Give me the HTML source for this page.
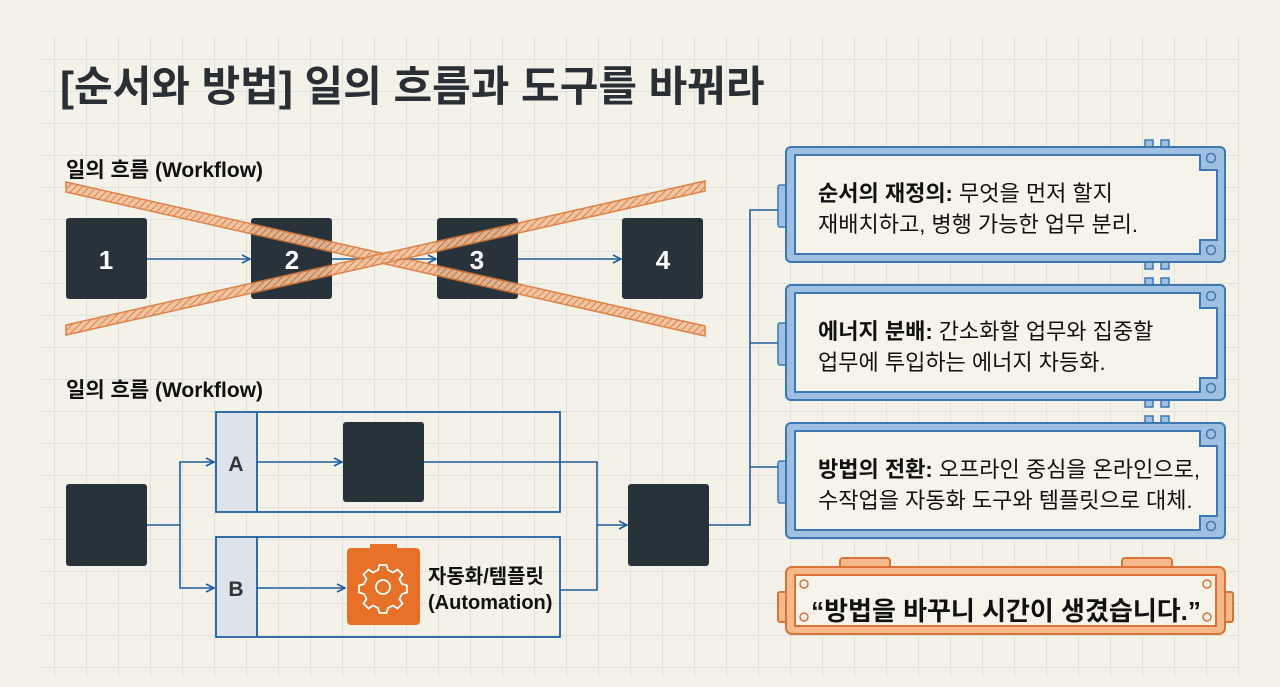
<!DOCTYPE html>
<html><head><meta charset="utf-8"><style>
html,body{margin:0;padding:0;background:#f4f1e8;}
svg{display:block}
text{font-family:"Liberation Sans","Noto Sans CJK KR",sans-serif;}
</style></head><body>
<svg width="1280" height="687" viewBox="0 0 1280 687" xmlns="http://www.w3.org/2000/svg">
<defs>
<pattern id="grid" x="23" y="28" width="32" height="32" patternUnits="userSpaceOnUse">
<path d="M32 0V32M0 32H32" fill="none" stroke="#d3d8dc" stroke-width="1.2"/>
</pattern>
<pattern id="hatch" width="5" height="5" patternUnits="userSpaceOnUse" patternTransform="rotate(45)">
<rect width="5" height="5" fill="#f1c09a"/><line x1="0" y1="0" x2="0" y2="5" stroke="#d9783a" stroke-width="2"/>
</pattern>
<marker id="ar" markerWidth="10" markerHeight="10" refX="9" refY="5" orient="auto" markerUnits="userSpaceOnUse">
<path d="M1 1L9 5L1 9" fill="none" stroke="#1f5f9e" stroke-width="1.6"/>
</marker>
</defs>
<rect width="1280" height="687" fill="#f4f1e8"/>
<rect x="40" y="37" width="1200" height="640" fill="url(#grid)"/>
<text x="60" y="101" font-size="42" font-weight="bold" fill="#2a2f35">[순서와 방법] 일의 흐름과 도구를 바꿔라</text>

<text x="66" y="177" font-size="21" font-weight="bold" fill="#111">일의 흐름 (Workflow)</text>
<g fill="#27323b">
<rect x="66" y="218" width="81" height="81" rx="3"/><rect x="251" y="218" width="81" height="81" rx="3"/>
<rect x="437" y="218" width="81" height="81" rx="3"/><rect x="622" y="218" width="81" height="81" rx="3"/>
</g>
<g stroke="#1f5f9e" stroke-width="1.6" fill="none" marker-end="url(#ar)">
<line x1="147" y1="259" x2="250" y2="259"/><line x1="332" y1="259" x2="436" y2="259"/><line x1="518" y1="259" x2="621" y2="259"/>
</g>
<g font-size="26" font-weight="bold" fill="#fff" text-anchor="middle">
<text x="106" y="269">1</text><text x="292" y="269">2</text><text x="477" y="269">3</text><text x="663" y="269">4</text>
</g>
<g stroke="#d9783a" stroke-width="1.5" fill="url(#hatch)" opacity="0.9">
<polygon points="66,182 705,326 705,336 66,192"/>
<polygon points="66,325 705,181 705,191 66,335"/>
</g>

<text x="66" y="397" font-size="21" font-weight="bold" fill="#111">일의 흐름 (Workflow)</text>
<g stroke="#1f5f9e" stroke-width="1.8" fill="none">
<rect x="216" y="412" width="344" height="100"/>
<rect x="216" y="537" width="344" height="100"/>
</g>
<rect x="217" y="413" width="40" height="98" fill="#dde3ea"/>
<rect x="217" y="538" width="40" height="98" fill="#dde3ea"/>
<g stroke="#1f5f9e" stroke-width="1.8"><line x1="257" y1="412" x2="257" y2="512"/><line x1="257" y1="537" x2="257" y2="637"/></g>
<text x="236" y="471" font-size="21" font-weight="bold" fill="#333" text-anchor="middle">A</text>
<text x="236" y="596" font-size="21" font-weight="bold" fill="#333" text-anchor="middle">B</text>
<g fill="#27323b">
<rect x="66" y="484" width="81" height="82" rx="3"/><rect x="343" y="422" width="81" height="80" rx="3"/><rect x="628" y="484" width="81" height="82" rx="3"/>
</g>
<g stroke="#1f5f9e" stroke-width="1.6" fill="none">
<polyline points="147,525 180,525"/>
<polyline points="180,525 180,462 214,462" marker-end="url(#ar)"/>
<polyline points="180,525 180,588 214,588" marker-end="url(#ar)"/>
<line x1="257" y1="462" x2="342" y2="462" marker-end="url(#ar)"/>
<line x1="257" y1="588" x2="345" y2="588" marker-end="url(#ar)"/>
<polyline points="424,462 597,462 597,590 560,590"/>
<line x1="597" y1="525" x2="627" y2="525" marker-end="url(#ar)"/>
<polyline points="709,525 750,525 750,210 778,210"/>
<line x1="750" y1="343" x2="778" y2="343"/>
<line x1="750" y1="467" x2="778" y2="467"/>
</g>
<rect x="347" y="548" width="73" height="77" rx="4" fill="#e8712a"/>
<rect x="370" y="544" width="27" height="5" fill="#e8712a"/>
<g transform="translate(383,587)" fill="none" stroke="#fff" stroke-width="1.8">
<circle r="7"/>
<path d="M-3.5,-22 h7 l1.5,5 l5,2.5 l4.5,-3 l5,5 l-3,4.5 l2.5,5 l5,1.5 v7 l-5,1.5 l-2.5,5 l3,4.5 l-5,5 l-4.5,-3 l-5,2.5 l-1.5,5 h-7 l-1.5,-5 l-5,-2.5 l-4.5,3 l-5,-5 l3,-4.5 l-2.5,-5 l-5,-1.5 v-7 l5,-1.5 l2.5,-5 l-3,-4.5 l5,-5 l4.5,3 l5,-2.5 z"/>
</g>
<text x="428" y="583" font-size="20" font-weight="bold" fill="#111">자동화/템플릿</text>
<text x="428" y="609" font-size="20" font-weight="bold" fill="#111">(Automation)</text>

<g font-size="22" fill="#111">
<g transform="translate(0,0)">
<rect x="778" y="185" width="10" height="42" rx="2" fill="#9fc0e0" stroke="#3d78b5" stroke-width="1.5"/>
<rect x="1145" y="140" width="8" height="10" fill="#9fc0e0" stroke="#3d78b5" stroke-width="1.5"/>
<rect x="1161" y="140" width="8" height="10" fill="#9fc0e0" stroke="#3d78b5" stroke-width="1.5"/>
<rect x="1145" y="259" width="8" height="10" fill="#9fc0e0" stroke="#3d78b5" stroke-width="1.5"/>
<rect x="1161" y="259" width="8" height="10" fill="#9fc0e0" stroke="#3d78b5" stroke-width="1.5"/>
<rect x="786" y="147" width="439" height="115" rx="5" fill="#9fc0e0" stroke="#3d78b5" stroke-width="2"/>
<path d="M795,155 H1200 V170 H1217 V240 H1200 V254 H795 Z" fill="#f6f3ea" stroke="#3d78b5" stroke-width="2"/>
<circle cx="1211" cy="158" r="4.5" fill="none" stroke="#3d78b5" stroke-width="1.5"/><circle cx="1211" cy="250" r="4.5" fill="none" stroke="#3d78b5" stroke-width="1.5"/>
<text x="818" y="201"><tspan font-weight="bold">순서의 재정의:</tspan> 무엇을 먼저 할지</text>
<text x="818" y="232">재배치하고, 병행 가능한 업무 분리.</text>
</g>
<g transform="translate(0,138)">
<rect x="778" y="185" width="10" height="42" rx="2" fill="#9fc0e0" stroke="#3d78b5" stroke-width="1.5"/>
<rect x="1145" y="140" width="8" height="10" fill="#9fc0e0" stroke="#3d78b5" stroke-width="1.5"/>
<rect x="1161" y="140" width="8" height="10" fill="#9fc0e0" stroke="#3d78b5" stroke-width="1.5"/>
<rect x="1145" y="259" width="8" height="10" fill="#9fc0e0" stroke="#3d78b5" stroke-width="1.5"/>
<rect x="1161" y="259" width="8" height="10" fill="#9fc0e0" stroke="#3d78b5" stroke-width="1.5"/>
<rect x="786" y="147" width="439" height="115" rx="5" fill="#9fc0e0" stroke="#3d78b5" stroke-width="2"/>
<path d="M795,155 H1200 V170 H1217 V240 H1200 V254 H795 Z" fill="#f6f3ea" stroke="#3d78b5" stroke-width="2"/>
<circle cx="1211" cy="158" r="4.5" fill="none" stroke="#3d78b5" stroke-width="1.5"/><circle cx="1211" cy="250" r="4.5" fill="none" stroke="#3d78b5" stroke-width="1.5"/>
<text x="818" y="201"><tspan font-weight="bold">에너지 분배:</tspan> 간소화할 업무와 집중할</text>
<text x="818" y="232">업무에 투입하는 에너지 차등화.</text>
</g>
<g transform="translate(0,276)">
<rect x="778" y="185" width="10" height="42" rx="2" fill="#9fc0e0" stroke="#3d78b5" stroke-width="1.5"/>
<rect x="1145" y="140" width="8" height="10" fill="#9fc0e0" stroke="#3d78b5" stroke-width="1.5"/>
<rect x="1161" y="140" width="8" height="10" fill="#9fc0e0" stroke="#3d78b5" stroke-width="1.5"/>
<rect x="786" y="147" width="439" height="115" rx="5" fill="#9fc0e0" stroke="#3d78b5" stroke-width="2"/>
<path d="M795,155 H1200 V170 H1217 V240 H1200 V254 H795 Z" fill="#f6f3ea" stroke="#3d78b5" stroke-width="2"/>
<circle cx="1211" cy="158" r="4.5" fill="none" stroke="#3d78b5" stroke-width="1.5"/><circle cx="1211" cy="250" r="4.5" fill="none" stroke="#3d78b5" stroke-width="1.5"/>
<text x="818" y="201"><tspan font-weight="bold">방법의 전환:</tspan> 오프라인 중심을 온라인으로,</text>
<text x="818" y="232">수작업을 자동화 도구와 템플릿으로 대체.</text>
</g>
</g>
<g stroke="#d9733a" stroke-width="2">
<rect x="840" y="558" width="50" height="14" rx="3" fill="#f5b98a"/>
<rect x="1122" y="558" width="50" height="14" rx="3" fill="#f5b98a"/>
<rect x="778" y="592" width="10" height="30" rx="2" fill="#f5b98a"/>
<rect x="1223" y="592" width="10" height="30" rx="2" fill="#f5b98a"/>
<rect x="786" y="567" width="439" height="67" rx="6" fill="#f5b98a"/>
<rect x="795" y="575" width="421" height="51" fill="#f6f3ea"/>
</g>
<g fill="none" stroke="#d9733a" stroke-width="1.5">
<circle cx="804" cy="584" r="4"/><circle cx="804" cy="617" r="4"/><circle cx="1207" cy="584" r="4"/><circle cx="1207" cy="617" r="4"/>
</g>
<text x="1006" y="620" font-size="26" font-weight="bold" fill="#111" text-anchor="middle">“방법을 바꾸니 시간이 생겼습니다.”</text>
</svg>
</body></html>
